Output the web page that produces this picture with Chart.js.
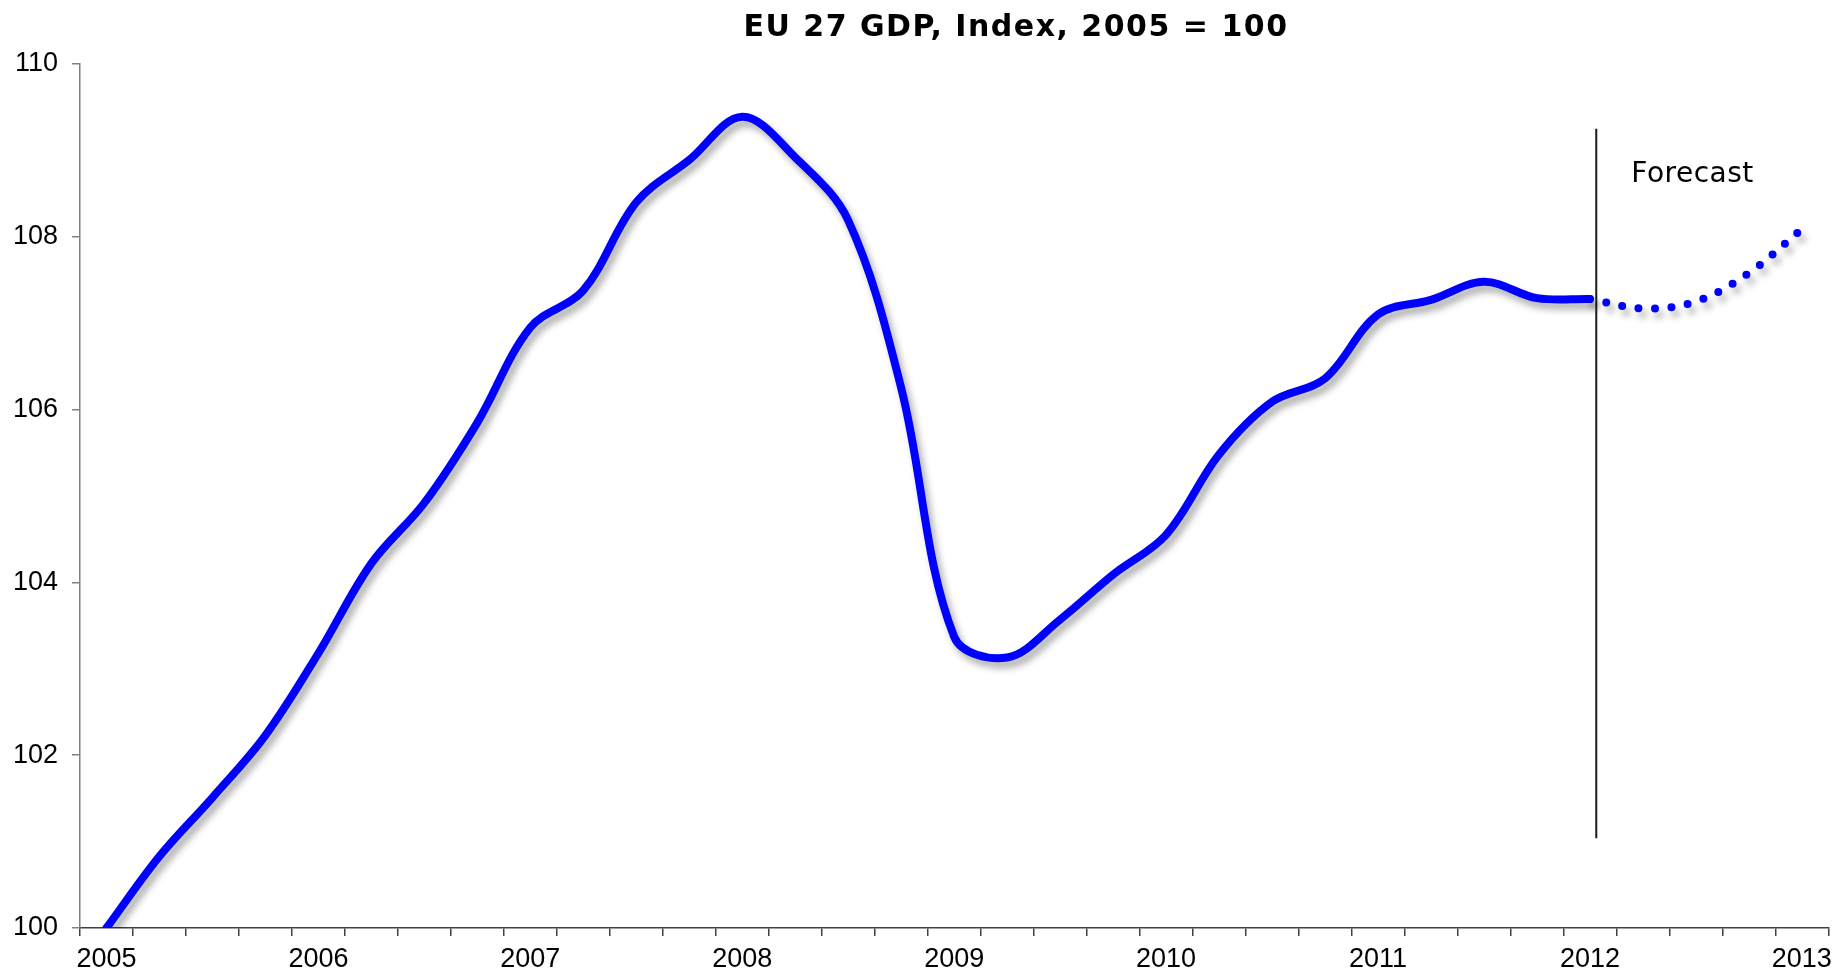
<!DOCTYPE html>
<html>
<head>
<meta charset="utf-8">
<title>EU 27 GDP, Index, 2005 = 100</title>
<script src="https://cdn.jsdelivr.net/npm/chart.js@4.4.1/dist/chart.umd.min.js"></script>
<style>
  html, body { margin: 0; padding: 0; background: #fff; }
  canvas { display: block; }
</style>
</head>
<body>
<canvas id="gdp" width="1839" height="972"></canvas>
<script>
// quarterly categories, a year label is shown on every Q1
const quarters = [
    '2005 Q1', '2005 Q2', '2005 Q3', '2005 Q4',
    '2006 Q1', '2006 Q2', '2006 Q3', '2006 Q4',
    '2007 Q1', '2007 Q2', '2007 Q3', '2007 Q4',
    '2008 Q1', '2008 Q2', '2008 Q3', '2008 Q4',
    '2009 Q1', '2009 Q2', '2009 Q3', '2009 Q4',
    '2010 Q1', '2010 Q2', '2010 Q3', '2010 Q4',
    '2011 Q1', '2011 Q2', '2011 Q3', '2011 Q4',
    '2012 Q1', '2012 Q2', '2012 Q3', '2012 Q4',
    '2013 Q1'
];

const actualGdp = [
    100.00, 100.83, 101.51, 102.23,
    103.18, 104.22, 104.92, 105.85,
    106.95, 107.38, 108.40, 108.89,
    109.39, 108.92, 108.19, 106.25,
    103.37, 103.13, 103.57, 104.09,
    104.55, 105.48, 106.09, 106.36,
    107.10, 107.27, 107.48, 107.29,
    107.28, null, null, null,
    null
];

const forecastGdp = [
    null, null, null, null,
    null, null, null, null,
    null, null, null, null,
    null, null, null, null,
    null, null, null, null,
    null, null, null, null,
    null, null, null, null,
    107.28, 107.17, 107.25, 107.58,
    108.09
];

const yTicks = [100, 102, 104, 106, 108, 110];

const chartTitle = 'EU 27 GDP, Index, 2005 = 100';
const forecastLabel = 'Forecast';

// divider between actual and forecast, in category index / index units
const dividerAt = 28.12;
const dividerFrom = 101.04;
const dividerTo = 109.25;

// soft drop shadow under the lines, like the spreadsheet original
const lineShadow = {
    id: 'lineShadow',
    beforeDatasetsDraw(chart) {
        const ctx = chart.ctx;
        ctx.save();
        ctx.shadowColor = 'rgba(0, 0, 0, 0.32)';
        ctx.shadowBlur = 7;
        ctx.shadowOffsetX = 4;
        ctx.shadowOffsetY = 6;
    },
    afterDatasetsDraw(chart) {
        chart.ctx.restore();
    }
};

const extras = {
    id: 'extras',
    afterDraw(chart) {
        const ctx = chart.ctx;
        const x = chart.scales.x;
        const y = chart.scales.y;

        // vertical divider
        const i = Math.floor(dividerAt);
        const step = x.getPixelForValue(i + 1) - x.getPixelForValue(i);
        const px = x.getPixelForValue(i) + (dividerAt - i) * step;
        ctx.save();
        ctx.strokeStyle = '#1a1a1a';
        ctx.lineWidth = 2;
        ctx.beginPath();
        ctx.moveTo(px, y.getPixelForValue(dividerTo));
        ctx.lineTo(px, y.getPixelForValue(dividerFrom));
        ctx.stroke();

        // forecast label
        ctx.fillStyle = '#000';
        ctx.font = '28px "DejaVu Sans"';
        ctx.letterSpacing = '0.5px';
        ctx.textAlign = 'left';
        ctx.textBaseline = 'alphabetic';
        ctx.fillText(forecastLabel, px + 35, 182);

        // title
        ctx.font = 'bold 30px "DejaVu Sans"';
        ctx.letterSpacing = '1.5px';
        ctx.textAlign = 'center';
        ctx.fillText(chartTitle, 1016, 36);
        ctx.restore();
    }
};

new Chart(document.getElementById('gdp'), {
    type: 'line',
    data: {
        labels: quarters,
        datasets: [
            {
                label: 'EU 27 GDP',
                data: actualGdp,
                borderColor: '#0000FF',
                borderWidth: 8,
                borderCapStyle: 'round',
                borderJoinStyle: 'round',
                pointRadius: 0,
                tension: 0.35,
                spanGaps: false
            },
            {
                label: 'Forecast',
                data: forecastGdp,
                borderColor: '#0000FF',
                borderWidth: 8,
                borderDash: [0, 16.5],
                borderCapStyle: 'round',
                pointRadius: 0,
                tension: 0.35,
                spanGaps: false
            }
        ]
    },
    options: {
        responsive: false,
        animation: false,
        devicePixelRatio: 1,
        layout: {
            padding: { top: 64, right: 9, left: 0, bottom: 0 }
        },
        plugins: {
            legend: { display: false },
            title: { display: false },
            tooltip: { enabled: false }
        },
        scales: {
            x: {
                type: 'category',
                offset: true,
                grid: {
                    offset: true,
                    drawOnChartArea: false,
                    drawTicks: true,
                    tickLength: 8,
                    color: '#404040',
                    lineWidth: 1.5
                },
                border: { color: '#404040', width: 1.5 },
                ticks: {
                    autoSkip: false,
                    maxRotation: 0,
                    padding: 7,
                    color: '#000',
                    font: { family: '"Liberation Sans", Arial', size: 27 },
                    callback: function (value) {
                        const q = this.getLabelForValue(value);
                        return q.endsWith('Q1') ? q.slice(0, 4) : '';
                    }
                },
                afterFit(scale) { scale.height = 44; }
            },
            y: {
                min: 100,
                max: 110,
                afterBuildTicks(scale) {
                    scale.ticks = yTicks.map(v => ({ value: v }));
                },
                grid: {
                    drawOnChartArea: false,
                    drawTicks: true,
                    tickLength: 8,
                    color: '#808080',
                    lineWidth: 1.5
                },
                border: { color: '#808080', width: 1.5 },
                ticks: {
                    padding: 14,
                    color: '#000',
                    font: { family: '"Liberation Sans", Arial', size: 27 }
                },
                afterFit(scale) { scale.width = 80; }
            }
        }
    },
    plugins: [lineShadow, extras]
});
</script>
</body>
</html>
